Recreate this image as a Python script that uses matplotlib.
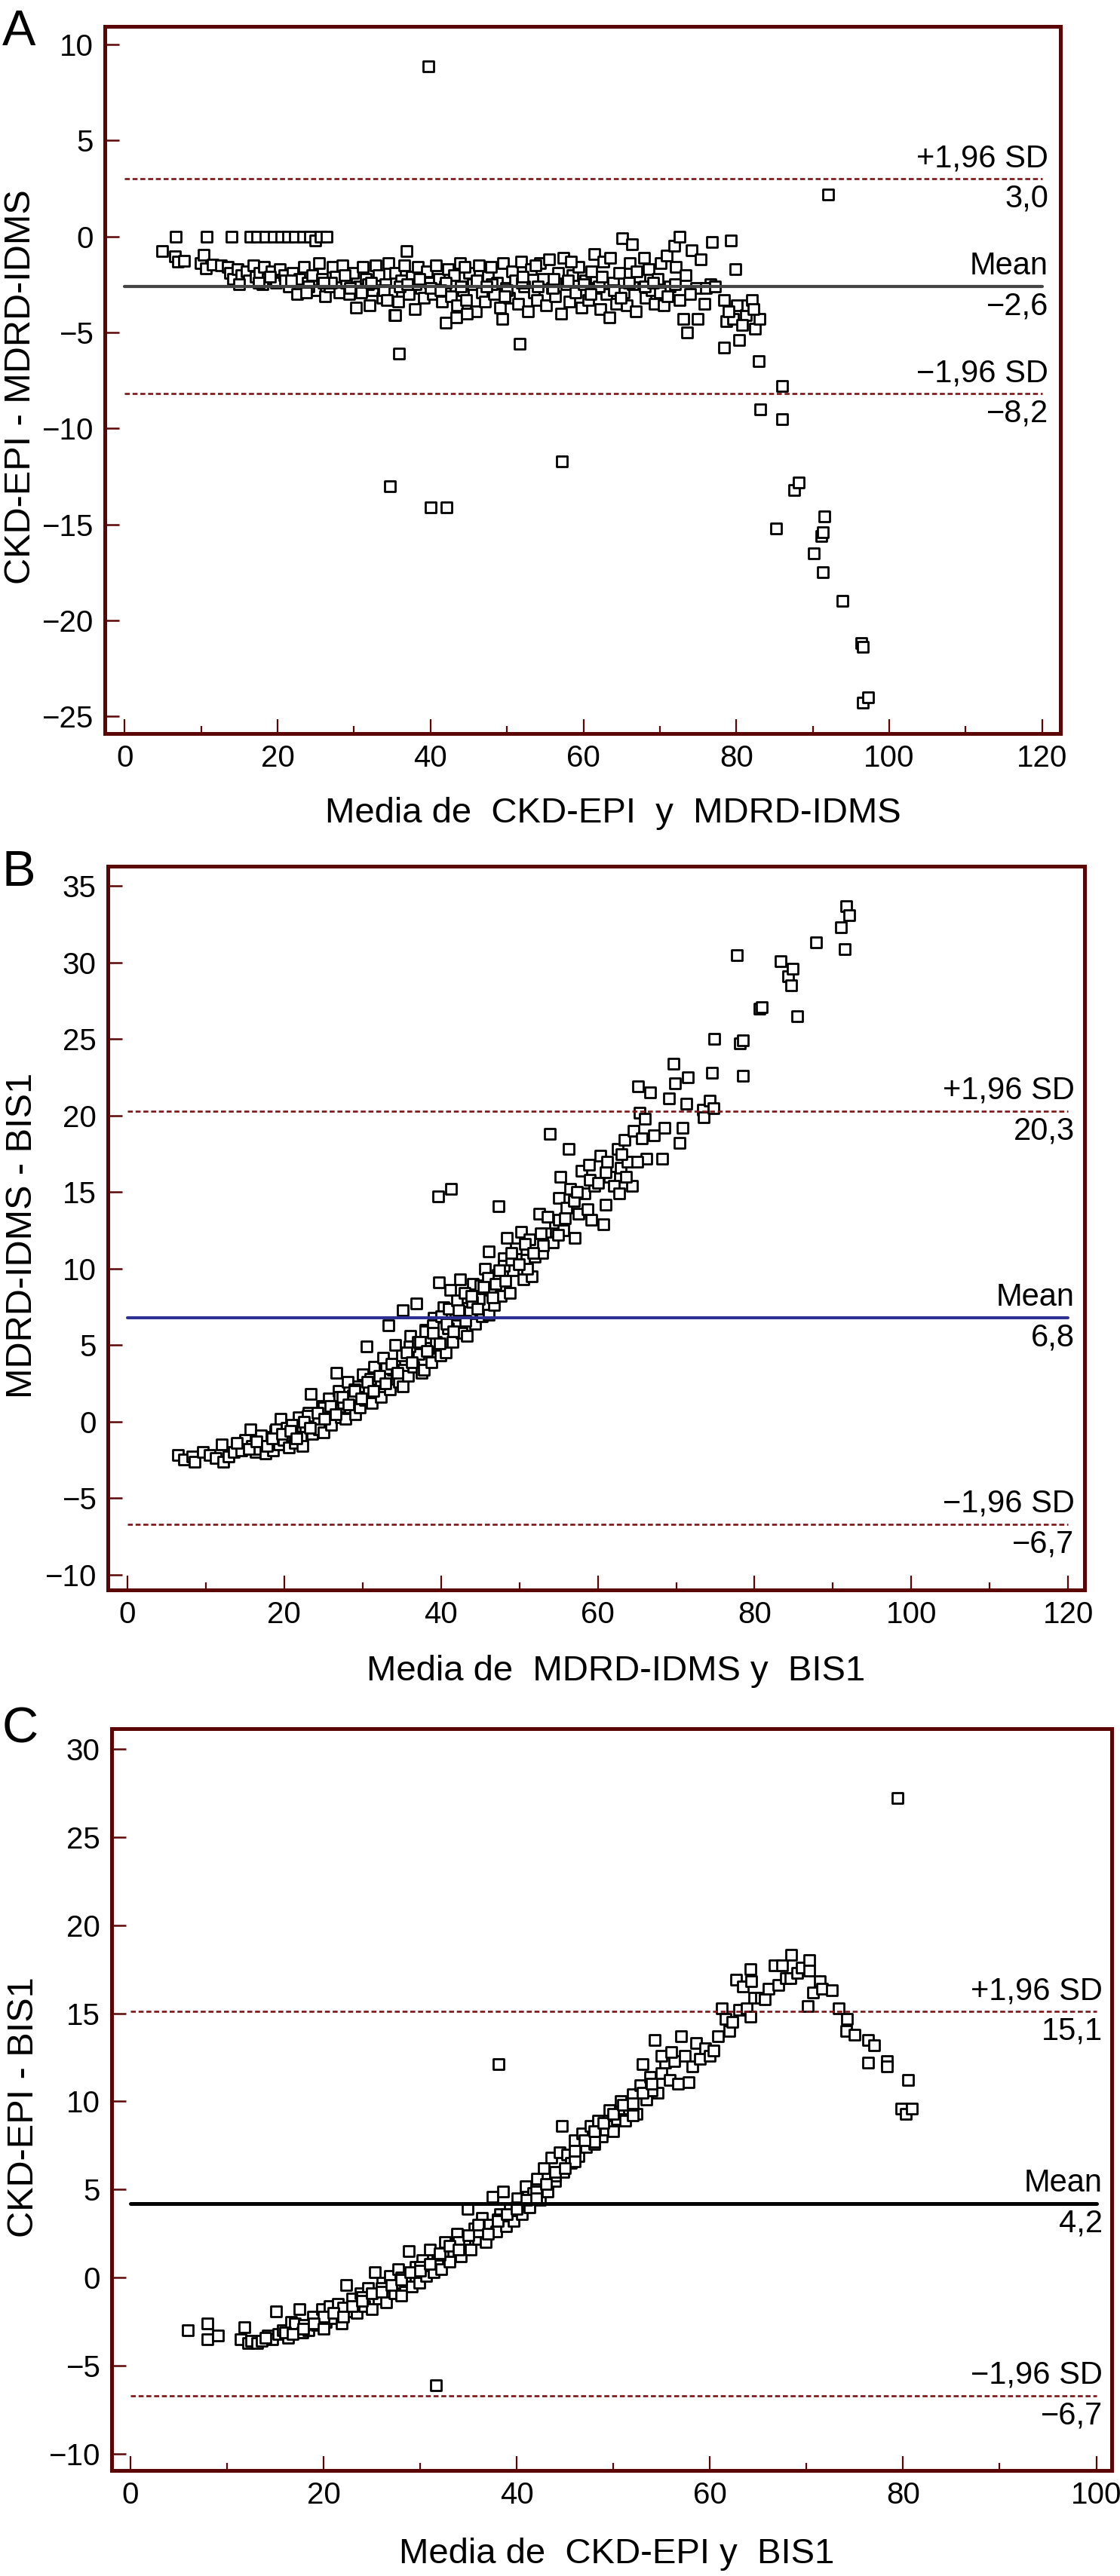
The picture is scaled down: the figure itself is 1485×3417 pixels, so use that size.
import matplotlib
matplotlib.use('Agg')
import matplotlib.pyplot as plt
from matplotlib.ticker import MultipleLocator

plt.rcParams['font.family'] = ['Liberation Sans', 'DejaVu Sans']

# ---- panel A: CKD-EPI - MDRD-IDMS
a_x = [6.7, 10.7, 14.0, 16.4, 17.3, 18.4, 19.5, 20.5, 21.4, 22.3, 23.3, 24.2, 24.9, 25.6, 26.4,
       4.9, 6.6, 7.0, 7.8, 9.9, 10.3, 10.6, 11.5, 12.6, 13.5, 13.8, 14.2, 14.8, 15.3, 15.9,
       16.2, 16.8, 17.1, 17.6, 18.2, 18.7, 19.2, 19.8, 20.3, 20.9, 21.5, 22.0, 22.6, 22.9, 23.4,
       23.9, 24.5, 24.9, 25.4, 25.8, 26.2, 26.8, 27.2, 27.6, 28.1, 28.5, 29.0, 29.4, 29.9, 30.3,
       30.6, 31.1, 31.5, 32.0, 32.4, 32.8, 33.2, 33.7, 34.1, 34.5, 34.9, 35.3, 35.4, 35.8, 36.2,
       36.6, 36.9, 37.2, 37.6, 37.9, 38.3, 38.7, 39.1, 39.5, 39.9, 40.3, 40.7, 41.1, 41.5, 41.9,
       42.3, 42.7, 43.1, 43.5, 43.9, 44.3, 44.7, 45.1, 45.5, 45.9, 46.3, 46.7, 47.1, 47.5, 47.9,
       48.3, 48.7, 49.1, 49.5, 49.9, 50.3, 50.7, 51.1, 51.5, 51.9, 52.3, 52.7, 53.1, 53.5, 53.9,
       54.3, 54.7, 55.1, 55.5, 55.9, 56.3, 56.7, 57.1, 57.4, 57.8, 58.2, 58.6, 59.0, 59.4, 59.8,
       60.2, 60.6, 61.0, 61.4, 61.8, 62.2, 62.6, 63.0, 63.4, 63.5, 63.9, 64.3, 64.7, 65.1, 65.3,
       65.7, 66.1, 66.4, 66.5, 66.9, 67.3, 67.9, 68.1, 68.5, 68.9, 69.3, 69.7, 70.1, 70.5, 70.9,
       71.3, 71.9, 72.1, 72.6, 72.6, 73.1, 73.6, 74.2, 74.7, 74.9, 75.3, 76.6, 76.8, 78.4, 78.7,
       78.4, 79.3, 79.6, 79.9, 80.1, 80.4, 81.3, 81.5, 82.0, 82.4, 83.0,
       18.0, 21.0, 24.0, 27.0, 29.5, 31.8, 33.9, 36.0, 38.0, 40.0, 42.0, 44.0, 46.0, 48.0, 50.0,
       52.0, 54.0, 56.0, 58.0, 60.0, 62.0, 64.0, 66.0, 68.0, 70.0, 72.0, 74.0, 76.0,
       15.0, 17.5, 19.0, 21.8, 23.7, 26.0, 28.8, 30.9, 32.2, 34.3, 37.0, 38.5, 41.3, 44.5, 47.3,
       49.7, 52.1, 53.7, 56.1, 58.4, 60.9, 62.4, 64.9, 67.0, 69.1, 71.0, 73.4, 75.8, 77.2, 79.0,
       80.8, 82.2,
       35.4, 35.9, 42.0, 43.4, 44.8, 49.4, 51.7, 57.2, 34.7, 40.0, 42.1, 39.7, 92.0,
       82.9, 83.1, 86.0, 86.0, 85.2, 87.6, 88.2, 90.1, 91.5, 91.1, 91.3, 91.3, 93.9, 96.4, 96.6,
       96.6, 97.2]
a_y = [0.0, 0.0, 0.0, 0.0, 0.0, 0.0, 0.0, 0.0, 0.0, 0.0, 0.0, 0.0, -0.2, 0.0, 0.0,
       -0.75, -1.05, -1.3, -1.25, -1.4, -0.95, -1.65, -1.45, -1.5, -1.6, -1.9, -2.2, -1.7, -2.0, -1.8,
       -2.3, -1.5, -2.1, -1.9, -1.6, -2.2, -1.8, -2.4, -1.7, -2.0, -2.6, -1.9, -3.0, -2.2, -1.6,
       -2.4, -2.0, -2.8, -1.4, -2.2, -3.1, -2.6, -1.6, -2.1, -2.9, -1.5, -2.4, -3.0, -1.9, -3.7,
       -2.6, -1.6, -2.2, -3.6, -2.8, -1.5, -2.0, -3.2, -2.5, -1.4, -2.9, -4.1, -1.9, -3.4, -2.3,
       -1.5, -0.75, -3.0, -2.1, -3.8, -1.6, -2.7, -3.2, -1.8, -2.4, -3.0, -1.5, -2.2, -3.4, -2.6,
       -1.7, -3.1, -2.0, -3.6, -1.4, -2.8, -3.3, -1.9, -2.5, -3.9, -1.5, -2.9, -3.4, -2.1, -1.6,
       -3.0, -2.4, -3.7, -1.4, -2.7, -3.2, -1.8, -2.3, -3.5, -1.3, -2.6, -3.9, -1.7, -2.9, -3.3,
       -1.4, -2.2, -3.6, -1.2, -2.7, -3.1, -1.9, -4.0, -1.1, -2.5, -3.4, -2.0, -2.9, -1.6, -3.7,
       -2.3, -3.3, -1.8, -0.9, -2.7, -3.8, -1.3, -3.0, -4.2, -1.1, -2.4, -3.5, -1.9, -0.1, -2.9,
       -3.6, -1.4, -0.4, -2.5, -3.9, -2.1, -1.1, -3.2, -1.7, -2.8, -3.5, -2.2, -1.4, -3.6, -1.0,
       -2.6, -0.5, -1.6, 0.0, -3.3, -4.3, -5.0, -0.7, -2.7, -4.3, -1.2, -2.5, -0.3, -3.3, -4.4,
       -5.8, -0.2, -4.3, -1.7, -3.6, -5.4, -4.1, -3.6, -3.3, -4.8, -4.3,
       -2.5, -2.3, -2.6, -2.4, -2.7, -2.5, -2.8, -2.6, -2.5, -2.7, -2.4, -2.6, -2.3, -2.5, -2.8,
       -2.4, -2.6, -2.7, -2.3, -2.5, -2.6, -2.8, -2.4, -2.6, -2.9, -2.5, -3.0, -2.7,
       -2.5, -2.4, -2.1, -2.3, -2.9, -2.4, -2.0, -2.9, -2.4, -3.3, -2.5, -2.2, -2.8, -1.6, -2.6,
       -3.1, -2.1, -1.5, -2.2, -1.3, -3.0, -2.1, -3.2, -1.8, -2.4, -3.1, -2.0, -3.5, -2.6, -3.9,
       -4.6, -3.8,
       -4.1, -6.1, -4.5, -4.2, -4.0, -4.3, -5.6, -11.7, -13.0, -14.1, -14.1, 8.86, 2.2,
       -6.5, -9.0, -7.8, -9.5, -15.2, -13.2, -12.8, -16.5, -14.6, -15.6, -15.4, -17.5, -19.0, -21.2, -21.4,
       -24.3, -24.0]

# ---- panel B: MDRD-IDMS - BIS1
b_x = [6.4, 7.2, 8.3, 8.6, 9.6, 10.5, 11.3, 12.0, 12.2, 12.9, 13.6, 14.5, 15.0, 15.7, 15.9,
       16.4, 16.8, 17.3, 17.6, 18.0, 18.6, 18.9, 19.3, 19.5, 19.9, 20.3, 20.6, 21.0, 21.4, 21.8,
       22.1, 22.3, 22.7, 23.1, 23.4, 23.6, 24.0, 24.4, 24.8, 25.0, 25.3, 25.7, 26.0, 26.4, 26.7,
       26.9, 27.2, 27.5, 27.8, 28.1, 28.4, 28.8, 29.1, 29.4, 29.6, 30.0, 30.3, 30.5, 30.8, 31.2,
       31.5, 31.9, 32.3, 32.6, 33.0, 33.3, 33.5, 33.9, 34.2, 34.6, 35.1, 35.1, 35.4, 35.8, 36.1,
       36.5, 36.9, 37.1, 37.5, 37.8, 38.0, 38.4, 38.8, 39.1, 39.4, 39.7, 39.9, 40.3, 40.6, 40.9,
       41.2, 41.5, 41.9, 42.4, 42.6, 43.0, 43.3, 43.7, 44.1, 44.4, 44.8, 45.2, 45.6, 46.1, 46.1,
       46.4, 46.8, 47.2, 47.6, 48.0, 48.4, 48.8, 49.2, 49.6, 50.2, 50.5, 50.9, 51.3, 51.6, 52.0,
       52.5, 52.9, 53.3, 53.9, 54.3, 54.6, 55.0, 55.2, 55.6, 56.0, 56.3, 56.5, 57.1, 57.5, 57.9,
       58.3, 58.9, 59.2, 59.6, 60.3, 60.7, 61.0, 61.5, 62.1, 62.5, 62.9, 63.4, 63.8, 64.4, 64.6,
       65.1, 65.3, 65.6, 66.0, 66.2, 66.7, 67.2, 68.2, 68.5, 69.1, 69.7, 69.9, 70.4, 70.8, 71.3,
       71.5, 73.4, 73.5, 74.3, 74.6, 74.8, 74.9, 77.7, 78.1, 78.5, 78.5, 80.6, 80.9, 83.3, 84.3,
       84.7, 84.9, 85.4, 87.8, 91.0, 91.5, 91.7, 92.1,
       39.6, 41.3, 47.3,
       14.0, 17.0, 19.0, 21.0, 23.0, 25.0, 27.0, 29.0, 31.0, 33.0, 35.0, 36.0, 37.0, 38.0, 39.0,
       40.0, 41.0, 42.0, 43.0, 44.0, 45.0, 46.0, 47.0, 48.0, 49.0, 51.0, 53.0, 55.0, 57.0, 59.0,
       61.0, 63.0,
       15.5, 16.5, 17.8, 18.5, 19.7, 20.8, 21.6, 22.5, 23.3, 24.2, 25.1, 25.9, 26.6, 27.4, 28.2,
       29.0, 29.8, 30.6, 31.4, 32.1, 32.9, 33.7, 34.4, 35.6, 36.3, 37.3, 38.2, 39.0, 39.8, 40.7,
       41.6, 42.2, 43.1, 43.9, 44.6, 45.4, 46.6, 47.4, 48.2, 49.0, 49.9, 50.7, 51.8, 52.7, 53.6,
       54.9, 55.8, 57.3, 58.7, 60.0, 61.2, 62.7, 63.6, 65.0]
b_y = [-2.2, -2.5, -2.3, -2.6, -2.0, -2.2, -2.4, -1.5, -2.6, -2.3, -2.0, -1.9, -1.2, -0.5, -1.6,
       -2.0, -1.8, -1.0, -2.1, -1.4, -1.9, -0.6, -1.5, 0.2, -1.2, -0.4, -1.7, -0.9, -1.4, 0.3,
       -1.0, -1.6, -0.3, 0.6, 1.8, -0.8, 0.1, -0.5, 1.0, -0.7, 0.4, 1.5, -0.2, 0.8, 3.2,
       2.0, 0.3, 1.2, 0.2, 2.6, 0.9, 1.7, 0.5, 2.3, 0.9, 3.1, 1.4, 4.9, 2.0, 1.2,
       3.6, 2.5, 1.6, 4.2, 2.9, 6.3, 2.1, 3.4, 5.0, 2.6, 2.3, 7.3, 4.1, 3.0, 5.6,
       3.6, 7.7, 4.4, 3.2, 3.4, 6.0, 4.8, 3.9, 6.8, 5.2, 9.1, 4.3, 7.5, 4.5, 6.1,
       8.6, 5.2, 7.0, 9.3, 5.8, 8.1, 5.6, 7.2, 9.0, 6.4, 8.0, 6.9, 10.0, 7.0, 11.1,
       8.6, 7.6, 9.6, 8.2, 10.7, 12.0, 8.4, 9.9, 11.3, 12.4, 9.3, 10.6, 11.9, 9.5, 10.8,
       13.6, 11.0, 12.3, 18.8, 11.7, 13.0, 14.6, 16.0, 12.5, 14.0, 17.8, 15.2, 12.0, 13.6, 16.4,
       14.9, 16.8, 13.2, 15.4, 17.4, 12.9, 14.2, 16.0, 15.4, 17.8, 16.6, 18.4, 17.0, 15.4, 19.0,
       21.9, 20.2, 18.5, 19.8, 17.2, 21.5, 18.7, 17.2, 19.2, 21.1, 23.4, 22.1, 18.2, 19.2, 20.8,
       22.5, 20.4, 19.9, 21.0, 22.8, 20.5, 25.0, 30.5, 24.7, 24.9, 22.6, 27.0, 27.1, 30.1, 29.1,
       28.5, 29.6, 26.5, 31.3, 32.3, 30.9, 33.7, 33.1,
       14.7, 15.2, 14.1,
       -1.4, -0.9, -0.5, -0.2, 0.4, 0.9, 1.6, 2.1, 2.8, 3.5, 4.3, 4.9, 5.2, 5.9, 6.3,
       6.9, 7.4, 7.9, 8.4, 7.8, 8.9, 9.4, 9.0, 10.2, 10.6, 10.0, 11.5, 13.2, 14.4, 15.8,
       16.3, 17.5,
       -1.8, -1.3, -1.6, -1.1, -0.8, -0.6, -1.1, 0.0, -0.4, 0.6, 0.2, 1.0, 0.5, 1.6, 1.1,
       2.0, 1.5, 2.6, 2.0, 3.0, 2.5, 3.8, 3.2, 4.5, 3.9, 5.2, 4.6, 5.8, 5.1, 6.4,
       5.9, 7.3, 6.6, 8.2, 7.4, 8.8, 8.1, 9.9, 9.2, 11.0, 10.3, 11.6, 11.0, 12.3, 13.4,
       12.2, 13.3, 15.0, 13.9, 15.6, 17.0, 14.9, 16.0, 17.0]

# ---- panel C: CKD-EPI - BIS1
c_x = [5.9, 8.0, 8.0, 9.1, 11.4, 11.8, 12.2, 12.5, 13.1, 13.6, 14.2, 14.7, 15.1, 15.3, 15.8,
       16.3, 16.6, 17.0, 17.5, 17.8, 18.4, 18.9, 19.3, 19.8, 20.2, 20.6, 21.1, 21.5, 21.9, 22.3,
       22.6, 23.0, 23.4, 23.8, 24.2, 24.6, 25.0, 25.3, 25.7, 26.1, 26.5, 26.9, 27.3, 27.7, 28.0,
       28.4, 28.8, 29.1, 29.5, 29.9, 30.2, 30.6, 31.0, 31.4, 31.6, 31.8, 32.2, 32.6, 33.0, 33.4,
       33.8, 34.2, 34.6, 34.9, 35.2, 35.6, 36.0, 36.4, 36.8, 37.2, 37.5, 37.9, 38.1, 38.3, 38.6,
       38.9, 39.3, 39.7, 40.1, 40.5, 40.9, 41.3, 41.7, 42.1, 42.4, 42.8, 43.2, 43.6, 44.0, 44.4,
       44.7, 44.8, 45.2, 45.6, 46.0, 46.4, 46.8, 47.2, 47.6, 48.0, 48.4, 48.8, 49.2, 49.6, 50.0,
       50.4, 50.8, 51.2, 51.6, 52.0, 52.4, 52.8, 53.0, 53.4, 53.8, 54.3, 54.6, 55.0, 55.4, 55.8,
       56.3, 56.7, 57.0, 57.4, 57.8, 58.2, 58.6, 59.0, 59.5, 60.0, 60.4, 60.8, 61.2, 61.6, 62.0,
       62.3, 62.7, 63.0, 63.4, 63.8, 64.2, 64.2, 64.3, 64.6, 65.3, 65.7, 66.1, 66.7, 67.1, 67.5,
       67.9, 68.4, 68.3, 69.0, 69.5, 70.1, 70.3, 70.3, 70.7, 71.4, 71.6, 72.6, 73.3, 74.1, 74.2,
       75.0, 76.4, 76.4, 77.0, 78.3, 78.3, 79.4, 79.8, 80.3, 80.5, 80.9,
       14.0, 16.0, 18.0, 20.0, 22.0, 24.0, 26.0, 28.0, 30.0, 32.0, 34.0, 36.0, 38.0, 40.0, 42.0,
       44.0, 46.0, 48.0, 50.0, 52.0, 54.0,
       16.8, 17.9, 19.0, 20.0, 21.0, 22.0, 23.0, 24.0, 25.0, 26.0, 27.0, 28.0, 29.0, 30.0, 31.0,
       32.0, 33.0, 34.0, 35.0, 36.0, 37.0, 38.0, 39.0, 40.0, 41.0, 42.0, 43.0, 44.0, 45.0, 46.0,
       47.0, 48.0, 49.0, 50.0, 51.0, 52.0, 53.0, 54.0, 55.0, 56.0]
c_y = [-3.0, -2.6, -3.5, -3.3, -3.5, -2.8, -3.7, -3.6, -3.7, -3.6, -3.3, -3.5, -1.9, -3.2, -3.0,
       -3.4, -2.5, -2.6, -1.8, -3.1, -3.0, -2.2, -2.7, -1.8, -2.5, -1.6, -2.3, -1.5, -2.6, -0.4,
       -1.9, -1.2, -2.0, -0.9, -1.6, -0.6, -1.8, 0.3, -1.2, -0.3, -1.4, 0.1, -0.9, 0.5, -1.0,
       -0.2, 1.5, -0.5, 0.6, -0.3, 1.0, 0.1, 1.6, 0.3, -6.1, 1.0, 0.5, 2.0, 0.9, 1.5,
       2.5, 1.2, 2.0, 3.9, 1.6, 2.8, 2.2, 3.4, 2.0, 3.0, 4.6, 2.6, 12.1, 3.6, 4.9,
       2.9, 3.9, 3.2, 4.5, 3.6, 5.2, 4.0, 4.8, 5.6, 4.4, 6.2, 4.9, 6.8, 5.5, 7.1,
       8.6, 6.0, 7.0, 6.5, 7.8, 6.9, 8.2, 7.4, 8.6, 7.6, 8.9, 8.0, 8.4, 9.5, 8.6,
       9.0, 10.0, 8.9, 9.6, 10.4, 9.3, 10.9, 12.1, 10.1, 11.4, 13.5, 10.5, 11.6, 12.2, 11.2,
       12.3, 11.0, 13.7, 12.6, 11.1, 12.0, 13.3, 12.4, 13.0, 12.6, 12.9, 13.7, 15.3, 14.7, 14.0,
       14.5, 16.9, 15.2, 16.5, 15.3, 17.5, 14.8, 16.8, 15.9, 15.9, 15.8, 16.4, 17.7, 16.6, 17.7,
       17.0, 18.3, 17.0, 17.3, 17.6, 15.4, 18.0, 17.4, 16.2, 16.8, 16.4, 16.3, 15.3, 14.0, 14.7,
       13.8, 13.5, 12.2, 13.2, 12.3, 12.0, 27.2, 9.6, 9.3, 11.2, 9.6,
       -3.4, -3.1, -2.7, -2.2, -1.7, -1.1, -0.6, 0.0, 0.6, 1.3, 2.0, 2.6, 3.3, 4.0, 4.9,
       5.8, 6.6, 7.7, 8.3, 9.2, 10.6,
       -3.2, -2.9, -2.6, -2.9, -2.0, -2.2, -1.6, -1.3, -0.9, -0.8, -0.4, -0.1, 0.3, 0.4, 0.8,
       1.4, 1.8, 1.6, 2.4, 3.0, 2.5, 3.2, 3.6, 3.9, 4.4, 4.5, 5.3, 6.0, 6.2, 7.2,
       7.8, 8.3, 8.8, 9.3, 9.8, 9.9, 10.5, 11.0, 12.6, 12.8]

# summary lines (mean, +1.96 SD, -1.96 SD)
a_stats = [-2.6, 3.0, -8.2]
b_stats = [6.8, 20.3, -6.7]
c_stats = [4.2, 15.1, -6.7]

W, H = 1485, 3417
DARK = '#5c0505'


def box(l, t, r, b):
    return [l / W, 1 - b / H, (r - l) / W, (b - t) / H]


def fmt(v):
    return ('%.1f' % v).replace('.', ',').replace('-', '\u2212')


def panel(ax, xs, ys, stats, xmax, mean_color, mean_lw, xlabel, ylabel, xlab_x):
    ax.scatter(xs, ys, marker='s', s=10.5 ** 2, facecolors='white',
               edgecolors='black', linewidths=2.0, zorder=3)
    mean, hi, lo = stats
    ax.plot([0, xmax], [mean, mean], color=mean_color, lw=mean_lw,
            solid_capstyle='round', zorder=4)
    for v in (hi, lo):
        ax.plot([0, xmax], [v, v], color='#7b1515', lw=1.9,
                ls=(0, (2.5, 1.4)), zorder=4)
    names = ['Mean', '+1,96 SD', '\u22121,96 SD']
    for v, name in zip(stats, names):
        ax.annotate(name, (xmax, v), xytext=(6, 11.5), textcoords='offset points',
                    ha='right', va='baseline', fontsize=30)
        ax.annotate(fmt(v), (xmax, v), xytext=(6, -27), textcoords='offset points',
                    ha='right', va='baseline', fontsize=30)

    for s in ax.spines.values():
        s.set_color(DARK)
        s.set_linewidth(3.6)
    ax.xaxis.set_major_locator(MultipleLocator(20))
    ax.xaxis.set_minor_locator(MultipleLocator(10))
    ax.yaxis.set_major_locator(MultipleLocator(5))
    ax.tick_params(which='both', direction='in', colors=DARK, labelcolor='black',
                   labelsize=29, top=False, right=False)
    ax.tick_params(axis='x', which='major', length=14, width=1.6, pad=10)
    ax.tick_params(axis='x', which='minor', length=7, width=1.6)
    ax.tick_params(axis='y', which='major', length=14, width=1.8, pad=11)
    ax.set_xlabel(xlabel, fontsize=34)
    ax.xaxis.set_label_coords(xlab_x, -0.09)
    ax.set_ylabel(ylabel, fontsize=35)
    ax.yaxis.label.set_va('center')
    ax.yaxis.set_label_coords(-0.088, 0.49)


fig = plt.figure(figsize=(W / 100, H / 100), dpi=100)

ax1 = fig.add_axes(box(139, 35, 1406, 973))
panel(ax1, a_x, a_y, a_stats, 120, '#454545', 3.0,
      'Media de  CKD-EPI  y  MDRD-IDMS', 'CKD-EPI - MDRD-IDMS', 0.532)
ax1.set_xlim(-2.6, 122.4)
ax1.set_ylim(-25.9, 10.95)

ax2 = fig.add_axes(box(143, 1149, 1438, 2109))
panel(ax2, b_x, b_y, b_stats, 120, '#2e3192', 2.9,
      'Media de  MDRD-IDMS y  BIS1', 'MDRD-IDMS - BIS1', 0.52)
ax2.set_xlim(-2.5, 122.1)
ax2.set_ylim(-11.0, 36.3)

ax3 = fig.add_axes(box(148, 2293, 1474, 3277))
panel(ax3, c_x, c_y, c_stats, 100, 'black', 3.6,
      'Media de  CKD-EPI y  BIS1', 'CKD-EPI - BIS1', 0.505)
ax3.set_xlim(-1.95, 101.6)
ax3.set_ylim(-10.94, 31.15)

for lab, top in zip('ABC', [12, 1127, 2263]):
    fig.text(3 / W, 1 - top / H, lab, fontsize=48, ha='left', va='top')

fig.savefig('out.png', dpi=100)
